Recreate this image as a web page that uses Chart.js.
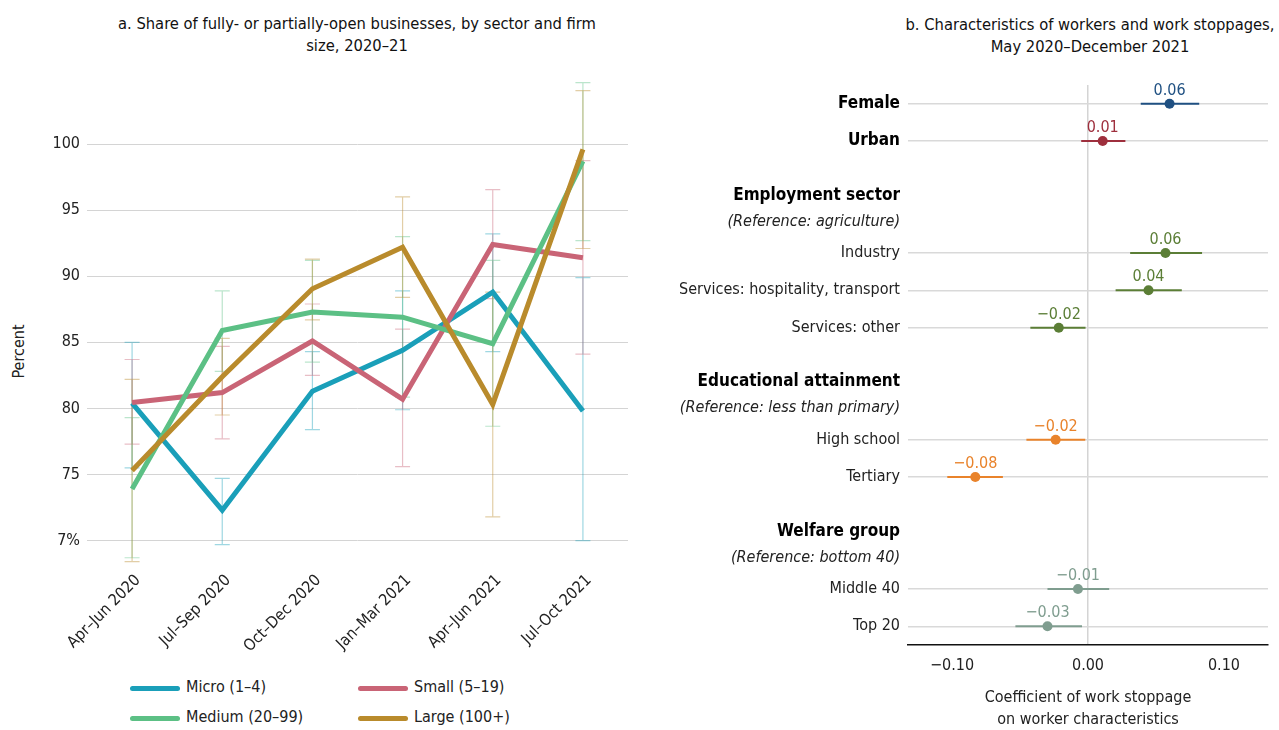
<!DOCTYPE html>
<html><head><meta charset="utf-8">
<script src="https://cdn.jsdelivr.net/npm/chart.js@4.4.0/dist/chart.umd.min.js"></script>
<style>
html,body{margin:0;padding:0;background:#fff;width:1279px;height:730px;overflow:hidden;}
body,div{font-family:"Liberation Sans Narrow","DejaVu Sans Condensed","Roboto Condensed",Roboto,sans-serif;color:#222;}
canvas{position:absolute;}
.title{position:absolute;text-align:center;font-size:16.4px;line-height:22px;white-space:nowrap;color:#111;}
.ytitle{position:absolute;font-size:16px;transform:rotate(-90deg);transform-origin:center center;white-space:nowrap;}
.leg{position:absolute;font-size:16px;white-space:nowrap;}
.legline{position:absolute;height:5px;width:50px;border-radius:3px;}
</style>
</head><body>
<div class="title" style="left:57px;top:13px;width:600px;">a. Share of fully- or partially-open businesses, by sector and firm<br>size, 2020–21</div>
<div class="title" style="left:890px;top:14px;width:400px;">b. Characteristics of workers and work stoppages,<br>May 2020–December 2021</div>
<div class="ytitle" style="left:-12px;top:342px;width:60px;text-align:center;">Percent</div>
<canvas id="left" width="640" height="665" style="left:0;top:0;"></canvas>
<canvas id="right" width="639" height="730" style="left:640px;top:0;"></canvas>
<div id="legend"></div>
<script>
const FONT = '"Liberation Sans Narrow","DejaVu Sans Condensed","Roboto Condensed",Roboto,sans-serif';

// ---------- Panel a data ----------
const quarters = ["Apr–Jun 2020","Jul–Sep 2020","Oct–Dec 2020","Jan–Mar 2021","Apr–Jun 2021","Jul–Oct 2021"];
const seriesNames = ["Micro (1–4)","Small (5–19)","Medium (20–99)","Large (100+)"];
const microVals  = [80.4, 72.3, 81.3, 84.4, 88.8, 79.8];
const smallVals  = [80.45, 81.2, 85.1, 80.7, 92.4, 91.4];
const mediumVals = [73.9, 85.9, 87.3, 86.9, 84.9, 98.7];
const largeVals  = [75.3, 82.4, 89.05, 92.2, 80.3, 99.6];
const microLo  = [75.5, 69.7, 78.4, 79.9, 84.3, 70.0];
const microHi  = [85.0, 74.7, 84.3, 88.9, 93.2, 89.9];
const smallLo  = [77.3, 77.7, 82.5, 75.6, 88.3, 84.1];
const smallHi  = [83.7, 84.7, 87.9, 86.0, 96.55, 98.75];
const mediumLo = [68.7, 82.8, 83.5, 80.85, 78.65, 92.7];
const mediumHi = [79.3, 88.9, 91.2, 93.0, 91.2, 104.65];
const largeLo  = [68.4, 79.5, 86.7, 88.4, 71.8, 92.1];
const largeHi  = [82.2, 85.3, 91.3, 96.0, 88.8, 104.05];
const yTickValues = [70, 75, 80, 85, 90, 95, 100];
const yTickLabels = ["7%", "75", "80", "85", "90", "95", "100"];

const seriesColors = ["#1A9FB9", "#C96476", "#5CC085", "#B98B2C"];
const seriesVals = [microVals, smallVals, mediumVals, largeVals];
const seriesLo = [microLo, smallLo, mediumLo, largeLo];
const seriesHi = [microHi, smallHi, mediumHi, largeHi];

function hexA(hex, a){
  const n = parseInt(hex.slice(1),16);
  return `rgba(${(n>>16)&255},${(n>>8)&255},${n&255},${a})`;
}

const errorBarPlugin = {
  id: 'errbars',
  beforeDatasetsDraw(chart){
    const {ctx, scales:{x, y}} = chart;
    ctx.save();
    ctx.lineWidth = 1.2;
    seriesVals.forEach((vals, i) => {
      ctx.strokeStyle = hexA(seriesColors[i], 0.42);
      vals.forEach((v, j) => {
        const px = x.getPixelForValue(j);
        const yl = y.getPixelForValue(seriesLo[i][j]);
        const yh = y.getPixelForValue(seriesHi[i][j]);
        ctx.beginPath();
        ctx.moveTo(px, yl); ctx.lineTo(px, yh);
        ctx.moveTo(px-7.5, yl); ctx.lineTo(px+7.5, yl);
        ctx.moveTo(px-7.5, yh); ctx.lineTo(px+7.5, yh);
        ctx.stroke();
      });
    });
    ctx.restore();
  }
};

new Chart(document.getElementById('left'), {
  type: 'line',
  data: {
    labels: quarters,
    datasets: seriesVals.map((vals, i) => ({
      label: seriesNames[i],
      data: vals,
      borderColor: seriesColors[i],
      backgroundColor: seriesColors[i],
      borderWidth: 5,
      pointRadius: 0,
      tension: 0,
      order: 4 - i
    }))
  },
  options: {
    responsive: false,
    animation: false,
    devicePixelRatio: 1,
    layout: {padding: {top: 78, right: 12, left: 0, bottom: 0}},
    plugins: {legend: {display: false}, tooltip: {enabled: false}, title: {display: false}},
    scales: {
      x: {
        type: 'category',
        offset: true,
        grid: {display: false},
        border: {display: false},
        ticks: {minRotation: 45, maxRotation: 45, color: '#222', font: {family: FONT, size: 16}, padding: -4, labelOffset: 6},
        afterFit(s){ s.height = 98; }
      },
      y: {
        min: 68, max: 105,
        grid: {color: '#d4d4d4', lineWidth: 1, drawTicks: false},
        border: {display: false},
        afterBuildTicks(s){ s.ticks = yTickValues.map(v => ({value: v})); },
        ticks: {
          color: '#222', font: {family: FONT, size: 16}, padding: 7,
          callback(v){ const k = yTickValues.indexOf(v); return k >= 0 ? yTickLabels[k] : ''; }
        },
        afterFit(s){ s.width = 87; }
      }
    }
  },
  plugins: [errorBarPlugin]
});

// legend (HTML, from series arrays)
const legendEl = document.getElementById('legend');
const legX = [130, 358], legY = [688, 718];
seriesNames.forEach((name, i) => {
  const col = i % 2, row = Math.floor(i / 2);
  const ln = document.createElement('div');
  ln.className = 'legline';
  ln.style.left = legX[col] + 'px';
  ln.style.top = (legY[row] - 2.5) + 'px';
  ln.style.background = seriesColors[i];
  legendEl.appendChild(ln);
  const tx = document.createElement('div');
  tx.className = 'leg';
  tx.textContent = name;
  tx.style.left = (legX[col] + 56) + 'px';
  tx.style.top = (legY[row] - 11) + 'px';
  legendEl.appendChild(tx);
});

// ---------- Panel b data ----------
const rowLabels = ["Female","Urban","Employment sector","(Reference: agriculture)","Industry",
  "Services: hospitality, transport","Services: other","Educational attainment",
  "(Reference: less than primary)","High school","Tertiary","Welfare group",
  "(Reference: bottom 40)","Middle 40","Top 20"];
const rowKind = ["bold","bold","header","ref","item","item","item","header","ref","item","item","header","ref","item","item"];
const coef   = [0.060, 0.0108, null, null, 0.057, 0.0445, -0.0215, null, null, -0.0238, -0.0829, null, null, -0.0074, -0.0298];
const ciLow  = [0.0388, -0.005, null, null, 0.031, 0.0203, -0.0424, null, null, -0.0453, -0.1035, null, null, -0.0298, -0.0534];
const ciHigh = [0.0818, 0.0275, null, null, 0.0839, 0.069, -0.0018, null, null, -0.002, -0.0626, null, null, 0.0156, -0.0044];
const rowGroup = [0, 1, 2, 2, 2, 2, 2, 3, 3, 3, 3, 4, 4, 4, 4];
const groupColors = ["#1F5082", "#9E2F3D", "#5B7E36", "#E9832B", "#7F9D8F"];
const xTickValues = [-0.10, 0, 0.10];

const dataRows = rowLabels.map((_, i) => i).filter(i => coef[i] !== null);
function fmt(v){ const s = Math.abs(v).toFixed(2); return (v < -0.0005 ? '−' : '') + s; }

const ciDatasets = dataRows.map(i => ({
  type: 'line',
  data: [{x: ciLow[i], y: rowLabels[i]}, {x: ciHigh[i], y: rowLabels[i]}],
  borderColor: groupColors[rowGroup[i]],
  borderWidth: 2,
  pointRadius: 0,
  showLine: true,
  order: 2
}));
const pointDataset = {
  type: 'scatter',
  data: dataRows.map(i => ({x: coef[i], y: rowLabels[i]})),
  pointBackgroundColor: dataRows.map(i => groupColors[rowGroup[i]]),
  pointBorderWidth: 0,
  pointRadius: 5,
  order: 1
};

const rowLabelPlugin = {
  id: 'rowlabels',
  afterDraw(chart){
    const {ctx, chartArea, scales:{x, y}} = chart;
    ctx.save();
    ctx.textAlign = 'right';
    ctx.textBaseline = 'middle';
    rowLabels.forEach((lab, i) => {
      const k = rowKind[i];
      let py = y.getPixelForValue(i);
      if (k === 'header') py += 17;
      if (k === 'ref') py += 6;
      if (k === 'header' || k === 'bold') { ctx.font = `bold 17px ${FONT}`; ctx.fillStyle = '#000'; }
      else if (k === 'ref') { ctx.font = `italic 16px ${FONT}`; ctx.fillStyle = '#222'; }
      else { ctx.font = `16px ${FONT}`; ctx.fillStyle = '#222'; }
      ctx.fillText(lab, chartArea.left - 8, py);
    });
    // value labels
    ctx.textAlign = 'center';
    ctx.font = `16px ${FONT}`;
    dataRows.forEach(i => {
      ctx.fillStyle = groupColors[rowGroup[i]];
      ctx.fillText(fmt(coef[i]), x.getPixelForValue(coef[i]), y.getPixelForValue(i) - 13);
    });
    ctx.restore();
  }
};

new Chart(document.getElementById('right'), {
  type: 'scatter',
  data: {datasets: [...ciDatasets, pointDataset]},
  options: {
    responsive: false,
    animation: false,
    devicePixelRatio: 1,
    layout: {padding: {top: 85, right: 11, left: 0, bottom: 0}},
    plugins: {legend: {display: false}, tooltip: {enabled: false}},
    scales: {
      x: {
        type: 'linear',
        min: -0.1324, max: 0.1324,
        afterBuildTicks(s){ s.ticks = xTickValues.map(v => ({value: v})); },
        grid: {
          drawTicks: false,
          color: c => (c.tick && Math.abs(c.tick.value) < 1e-9) ? '#d4d4d4' : 'rgba(0,0,0,0)',
          lineWidth: 1.5
        },
        border: {display: true, color: '#111', width: 1.5},
        ticks: {color: '#222', font: {family: FONT, size: 16}, padding: 11, callback: v => fmt(v)},
        title: {
          display: true,
          text: ['Coefficient of work stoppage', 'on worker characteristics'],
          color: '#222',
          font: {family: FONT, size: 16, lineHeight: 1.375},
          padding: {top: 0, bottom: -1}
        },
        afterFit(s){ s.height = 85; }
      },
      y: {
        type: 'category',
        labels: rowLabels,
        offset: true,
        reverse: false,
        grid: {
          offset: false,
          drawTicks: false,
          color: c => (c.index !== undefined && coef[c.index] !== null) ? '#d9d9d9' : 'rgba(0,0,0,0)',
          lineWidth: 1.5
        },
        border: {display: false},
        ticks: {display: false},
        afterFit(s){ s.width = 268; }
      }
    }
  },
  plugins: [rowLabelPlugin]
});
</script>
</body></html>
